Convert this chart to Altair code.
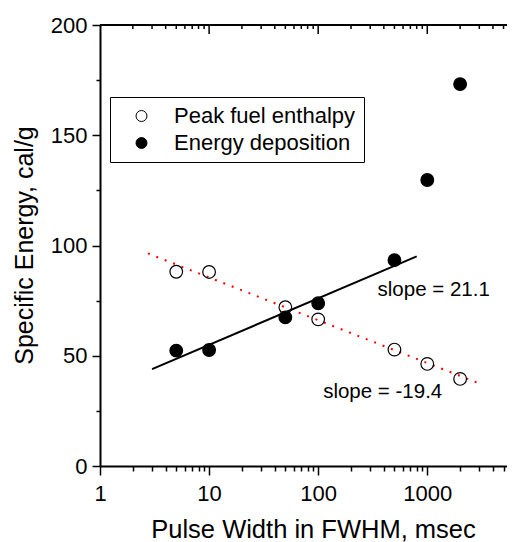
import altair as alt
import pandas as pd

# ---- data ----
pulse_width = [5, 10, 50, 100, 500, 1000, 2000]
peak_enthalpy = [88.1, 88.0, 72.0, 66.5, 52.8, 46.3, 39.5]
energy_deposition = [52.3, 52.6, 67.4, 73.8, 93.4, 129.7, 173.2]
series_names = ["Peak fuel enthalpy", "Energy deposition"]

fit_energy_x = [3, 800]
fit_energy_y = [43.9, 95.1]
fit_peak_x = [2.75, 3200]
fit_peak_y = [96.4, 36.9]
slope_labels = ["slope = 21.1", "slope = -19.4"]

x_decades = [1, 10, 100, 1000]
x_minor = [2, 3, 4, 5, 6, 7, 8, 9,
           20, 30, 40, 50, 60, 70, 80, 90,
           200, 300, 400, 500, 600, 700, 800, 900,
           2000, 3000, 4000, 5000, 6000]
y_ticks = [0, 25, 50, 75, 100, 125, 150, 175, 200]

FONT = "Liberation Sans"

pts = pd.DataFrame({
    "x": pulse_width * 2,
    "y": peak_enthalpy + energy_deposition,
    "series": [series_names[0]] * len(pulse_width) + [series_names[1]] * len(pulse_width),
})
fit_e = pd.DataFrame({"x": fit_energy_x, "y": fit_energy_y})
fit_p = pd.DataFrame({"x": fit_peak_x, "y": fit_peak_y})

decade_list = "[" + ",".join(str(v) for v in x_decades) + "]"
decade_test = f"indexof({decade_list}, datum.value) >= 0"

x_axis = alt.Axis(
    title="Pulse Width in FWHM, msec",
    values=sorted(x_decades + x_minor),
    labelExpr=f"{decade_test} ? format(datum.value, 'd') : ''",
    tickSize={"condition": {"test": decade_test, "value": 9}, "value": 5},
    tickWidth=1.5, tickColor="black",
    domainColor="black", domainWidth=2,
    labelFontSize=22, labelFont=FONT, labelColor="black", labelPadding=8,
    labelFlush=False, labelOverlap=False, grid=False,
    titleFontSize=25.5, titleFont=FONT, titleFontWeight="normal", titleColor="black",
    titleX=213, titleY=51, titleBaseline="top", titleAlign="center",
)
y_axis = alt.Axis(
    title="Specific Energy, cal/g",
    values=y_ticks,
    labelExpr="datum.value % 50 == 0 ? datum.label : ''",
    tickSize={"condition": {"test": "datum.value % 50 == 0", "value": 8}, "value": 4},
    tickWidth=1.5, tickColor="black",
    domainColor="black", domainWidth=2,
    labelFontSize=22, labelFont=FONT, labelColor="black", labelPadding=5,
    labelOverlap=False, labelFlush=False, grid=False,
    titleFontSize=25, titleFont=FONT, titleFontWeight="normal", titleColor="black",
    titleAngle=270, titleX=-63, titleY=220, titleBaseline="bottom", titleAlign="center",
)

x_enc = alt.X("x:Q", scale=alt.Scale(type="log", domain=[1, 6370], nice=False), axis=x_axis)
y_enc = alt.Y("y:Q", scale=alt.Scale(domain=[0, 200], nice=False, zero=False), axis=y_axis)

line_e = alt.Chart(fit_e).mark_line(color="black", strokeWidth=2).encode(x=x_enc, y=y_enc)
line_p = alt.Chart(fit_p).mark_line(color="red", strokeWidth=2, strokeDash=[2, 7]).encode(x=x_enc, y=y_enc)

points = alt.Chart(pts).mark_point(filled=True, size=160, stroke="black", strokeWidth=1.2, opacity=1).encode(
    x=x_enc, y=y_enc,
    fill=alt.Fill("series:N",
                  scale=alt.Scale(domain=series_names, range=["transparent", "black"]),
                  legend=alt.Legend(
                      title=None, orient="none", legendX=10, legendY=72, direction="vertical",
                      strokeColor="black", fillColor="white", padding=8,
                      symbolOffset=12.5, labelOffset=21.5, rowPadding=5,
                      symbolType="circle", symbolSize=120,
                      symbolStrokeColor="black", symbolStrokeWidth=1,
                      labelFontSize=22, labelFont=FONT, labelColor="black", labelLimit=0,
                      labelExpr="datum.label + '\u00a0\u00a0\u00a0'",
                  )),
)

top_major = alt.Chart(pd.DataFrame({"x": x_decades[1:]})).mark_rule(color="black", strokeWidth=1.5).encode(
    x=x_enc, y=alt.value(0), y2=alt.value(9))
top_minor = alt.Chart(pd.DataFrame({"x": x_minor})).mark_rule(color="black", strokeWidth=1.5).encode(
    x=x_enc, y=alt.value(0), y2=alt.value(4))
right_ticks = alt.Chart(pd.DataFrame({"y": y_ticks})).mark_rule(color="black", strokeWidth=1.5).encode(
    y=y_enc, x=alt.value(411), x2=alt.value(415))
top_line = alt.Chart(pd.DataFrame({"y": [200]})).mark_rule(color="black", strokeWidth=2).encode(
    y=y_enc, x=alt.value(0), x2=alt.value(415))

txt1 = alt.Chart(pd.DataFrame({"t": [slope_labels[0]]})).mark_text(
    align="left", baseline="middle", fontSize=20.5, font=FONT, color="black").encode(
    x=alt.XDatum(350), y=alt.YDatum(79.6), text="t:N")
txt2 = alt.Chart(pd.DataFrame({"t": [slope_labels[1]]})).mark_text(
    align="left", baseline="middle", fontSize=20.5, font=FONT, color="black").encode(
    x=alt.XDatum(111), y=alt.YDatum(33.6), text="t:N")

chart = alt.layer(
    top_line, top_major, top_minor, right_ticks, line_p, line_e, points, txt1, txt2
).properties(
    width=415, height=441,
    autosize=alt.AutoSizeParams(type="none"),
    padding={"left": 92, "top": 17, "right": -8, "bottom": 76},
    background="white",
).configure_view(stroke=None).configure(font=FONT)

chart.save("out.html", embed_options={"renderer": "svg", "actions": False})
